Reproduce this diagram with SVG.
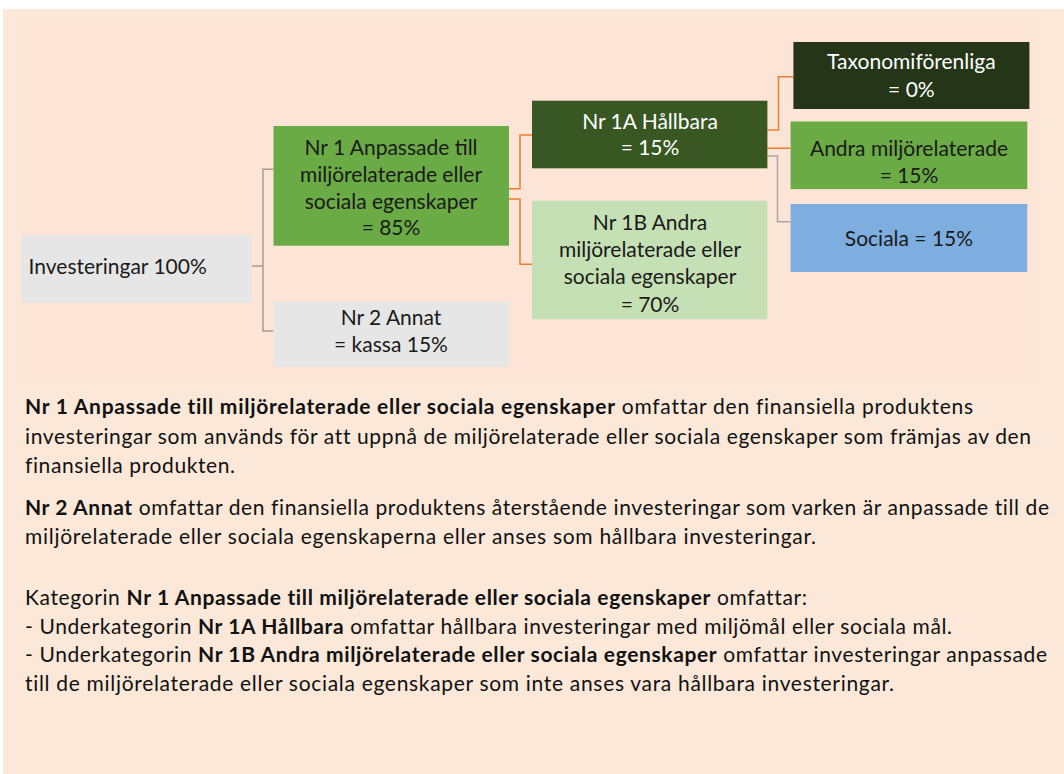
<svg xmlns="http://www.w3.org/2000/svg" width="1064" height="774" viewBox="0 0 1064 774">
<style>
.lbl{font-family:Lato,"Open Sans","Liberation Sans",sans-serif;font-size:21px;text-anchor:middle;fill:#1a1a1a}
.w{fill:#ffffff}
.body{font-family:Lato,"Open Sans","Liberation Sans",sans-serif;font-size:21px;fill:#111111;font-variant-ligatures:none}
.b{font-weight:bold}
.og{fill:none;stroke:#ed7d31;stroke-width:1.5}
.gy{fill:none;stroke:#ab9a8e;stroke-width:1.5}
.gy2{fill:none;stroke:#a6a6a6;stroke-width:1.5}
</style>
<rect x="0" y="0" width="1064" height="774" fill="#ffffff"/>
<rect x="3" y="9" width="1061" height="765" fill="#fbe8d8"/>
<rect x="21" y="19" width="1014" height="363" fill="#fce4d6"/>
<g id="connectors">
<path class="gy" d="M273.5,169.3 H263 V331 H273.5 M251.5,266 H263"/>
<path class="og" d="M509,188.7 H520 V135 H532"/>
<path class="og" d="M509,199 H520 V264.3 H532"/>
<path class="og" d="M767.4,130 H778.5 V76.7 H793.4"/>
<path class="og" d="M767.4,148.3 H790.6"/>
<path class="gy2" d="M767.4,156 H777.5 V221.7 H790.6"/>
</g>
<g id="inv">
<rect x="21.3" y="235" width="230.4" height="67.7" fill="#e7e6e6"/>
<text class="lbl" x="28.6" y="274" style="text-anchor:start">Investeringar 100%</text>
</g>
<g id="nr1">
<rect x="273.5" y="126" width="235.5" height="119.7" fill="#6aab45"/>
<text class="lbl" x="391" y="155">Nr 1 Anpassade till</text>
<text class="lbl" x="391" y="182">miljörelaterade eller</text>
<text class="lbl" x="391" y="208.5">sociala egenskaper</text>
<text class="lbl" x="391" y="235">= 85%</text>
</g>
<g id="nr2">
<rect x="273.5" y="301.7" width="235.5" height="65" fill="#e7e6e6"/>
<text class="lbl" x="391" y="325">Nr 2 Annat</text>
<text class="lbl" x="391" y="352">= kassa 15%</text>
</g>
<g id="nr1a">
<rect x="532" y="100.7" width="235.4" height="67.6" fill="#385723"/>
<text class="lbl w" x="650" y="128.5">Nr 1A Hållbara</text>
<text class="lbl w" x="650" y="155">= 15%</text>
</g>
<g id="nr1b">
<rect x="532" y="200.7" width="235.4" height="118.6" fill="#c5e0b4"/>
<text class="lbl" x="650" y="229.5">Nr 1B Andra</text>
<text class="lbl" x="650" y="256.7">miljörelaterade eller</text>
<text class="lbl" x="650" y="284">sociala egenskaper</text>
<text class="lbl" x="650" y="311.7">= 70%</text>
</g>
<g id="tax">
<rect x="793.4" y="42" width="236" height="67" fill="#243518"/>
<text class="lbl w" x="911.4" y="69.3">Taxonomiförenliga</text>
<text class="lbl w" x="911.4" y="96.7">= 0%</text>
</g>
<g id="andra">
<rect x="790.6" y="121.5" width="236.7" height="67.6" fill="#6aab45"/>
<text class="lbl" x="909" y="156">Andra miljörelaterade</text>
<text class="lbl" x="909" y="182.7">= 15%</text>
</g>
<g id="sociala">
<rect x="790.6" y="204" width="236.7" height="68" fill="#7eaee0"/>
<text class="lbl" x="909" y="246">Sociala = 15%</text>
</g>
<g id="text">
<text class="body" x="25" y="414" textLength="948" lengthAdjust="spacing"><tspan class="b">Nr 1 Anpassade till miljörelaterade eller sociala egenskaper</tspan> omfattar den finansiella produktens</text>
<text class="body" x="25" y="443.5" textLength="1006" lengthAdjust="spacing">investeringar som används för att uppnå de miljörelaterade eller sociala egenskaper som främjas av den</text>
<text class="body" x="25" y="473" textLength="210" lengthAdjust="spacing">finansiella produkten.</text>
<text class="body" x="25" y="515" textLength="1024" lengthAdjust="spacing"><tspan class="b">Nr 2 Annat</tspan> omfattar den finansiella produktens återstående investeringar som varken är anpassade till de</text>
<text class="body" x="25" y="544.3" textLength="791" lengthAdjust="spacing">miljörelaterade eller sociala egenskaperna eller anses som hållbara investeringar.</text>
<text class="body" x="25" y="605" textLength="782" lengthAdjust="spacing">Kategorin <tspan class="b">Nr 1 Anpassade till miljörelaterade eller sociala egenskaper</tspan> omfattar:</text>
<text class="body" x="25" y="633.5" textLength="927" lengthAdjust="spacing">- Underkategorin <tspan class="b">Nr 1A Hållbara</tspan> omfattar hållbara investeringar med miljömål eller sociala mål.</text>
<text class="body" x="25" y="662" textLength="1022" lengthAdjust="spacing">- Underkategorin <tspan class="b">Nr 1B Andra miljörelaterade eller sociala egenskaper</tspan> omfattar investeringar anpassade</text>
<text class="body" x="25" y="691" textLength="869" lengthAdjust="spacing">till de miljörelaterade eller sociala egenskaper som inte anses vara hållbara investeringar.</text>
</g>
</svg>
